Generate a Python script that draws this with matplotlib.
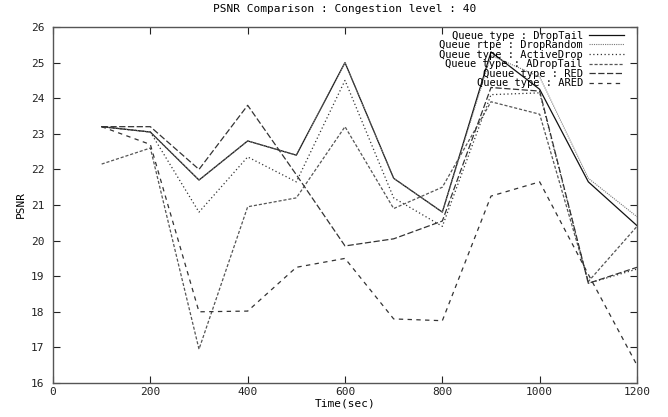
import matplotlib
matplotlib.use('Agg')
import matplotlib.pyplot as plt

# ── Data ──
time_sec = [100, 200, 300, 400, 500, 600, 700, 800, 900, 1000, 1100, 1200]

psnr_droptail = [23.2, 23.05, 21.7, 22.8, 22.4, 25.0, 21.75, 20.8, 25.3, 24.25, 21.65, 20.42]
psnr_droprandom = [23.2, 23.05, 21.7, 22.8, 22.4, 25.0, 21.75, 20.8, 25.2, 24.6, 21.75, 20.67]
psnr_activedrop = [23.2, 23.05, 20.8, 22.35, 21.65, 24.5, 21.2, 20.4, 24.1, 24.15, 18.8, 19.2]
psnr_adroptail = [22.15, 22.6, 16.95, 20.95, 21.2, 23.2, 20.9, 21.5, 23.9, 23.55, 18.85, 20.4]
psnr_red = [23.2, 23.2, 22.0, 23.8, 21.85, 19.85, 20.05, 20.55, 24.3, 24.2, 18.8, 19.25]
psnr_ared = [23.2, 22.7, 18.0, 18.02, 19.25, 19.5, 17.8, 17.75, 21.25, 21.65, 19.05, 16.5]

labels = ['Queue type : DropTail', 'Queue rtpe : DropRandom', 'Queue type : ActiveDrop',
          'Queue type : ADropTail', 'Queue type : RED', 'Queue type : ARED']

x_ticks = [0, 200, 400, 600, 800, 1000, 1200]
y_ticks = list(range(16, 27))

FONT = 'DejaVu Sans Mono'
FS = 8          # axis text
FS_LEG = 7.5    # legend text (rows are tightly packed in the original)

plt.rcParams.update({
    'font.family': FONT,
    'font.size': FS,
})

fig = plt.figure(figsize=(6.68, 4.17), dpi=100)
ax = fig.add_axes([53 / 668, 1 - 383 / 417, 584 / 668, 356 / 417])

series = [psnr_droptail, psnr_droprandom, psnr_activedrop, psnr_adroptail, psnr_red, psnr_ared]
styles = [
    dict(color='#111111', linestyle='-', linewidth=0.9),
    dict(color='#777777', linestyle=(0, (1, 1)), linewidth=0.8),
    dict(color='#333333', linestyle=(0, (1, 2)), linewidth=0.9),
    dict(color='#555555', linestyle=(0, (2.5, 1.5)), linewidth=0.9),
    dict(color='#333333', linestyle=(0, (5, 2)), linewidth=0.9),
    dict(color='#333333', linestyle=(0, (3.5, 3.5)), linewidth=0.9),
]

for vals, lab, st in zip(series, labels, styles):
    ax.plot(time_sec, vals, label=lab, **st)

ax.set_xlim(0, 1200)
ax.set_ylim(16, 26)
ax.set_xticks(x_ticks)
ax.set_yticks(y_ticks)
ax.tick_params(direction='in', length=5, width=0.8, top=True, right=True,
               labelsize=FS, colors='#222222')
ax.tick_params(axis='x', pad=3)
ax.tick_params(axis='y', pad=6)
for sp in ax.spines.values():
    sp.set_color('#555555')
    sp.set_linewidth(1.0)

ax.set_title('PSNR Comparison : Congestion level : 40', fontsize=FS, pad=11)
ax.set_xlabel('Time(sec)', fontsize=FS, labelpad=1)
ax.set_ylabel('PSNR', fontsize=FS, labelpad=4)

ax.legend(loc='upper right', bbox_to_anchor=(0.977, 0.99), markerfirst=False,
          frameon=False, fontsize=FS_LEG, handlelength=3.3, handletextpad=0.6,
          labelspacing=-0.04, borderpad=0, borderaxespad=0)

plt.savefig('out.png', dpi=100)
plt.close()
